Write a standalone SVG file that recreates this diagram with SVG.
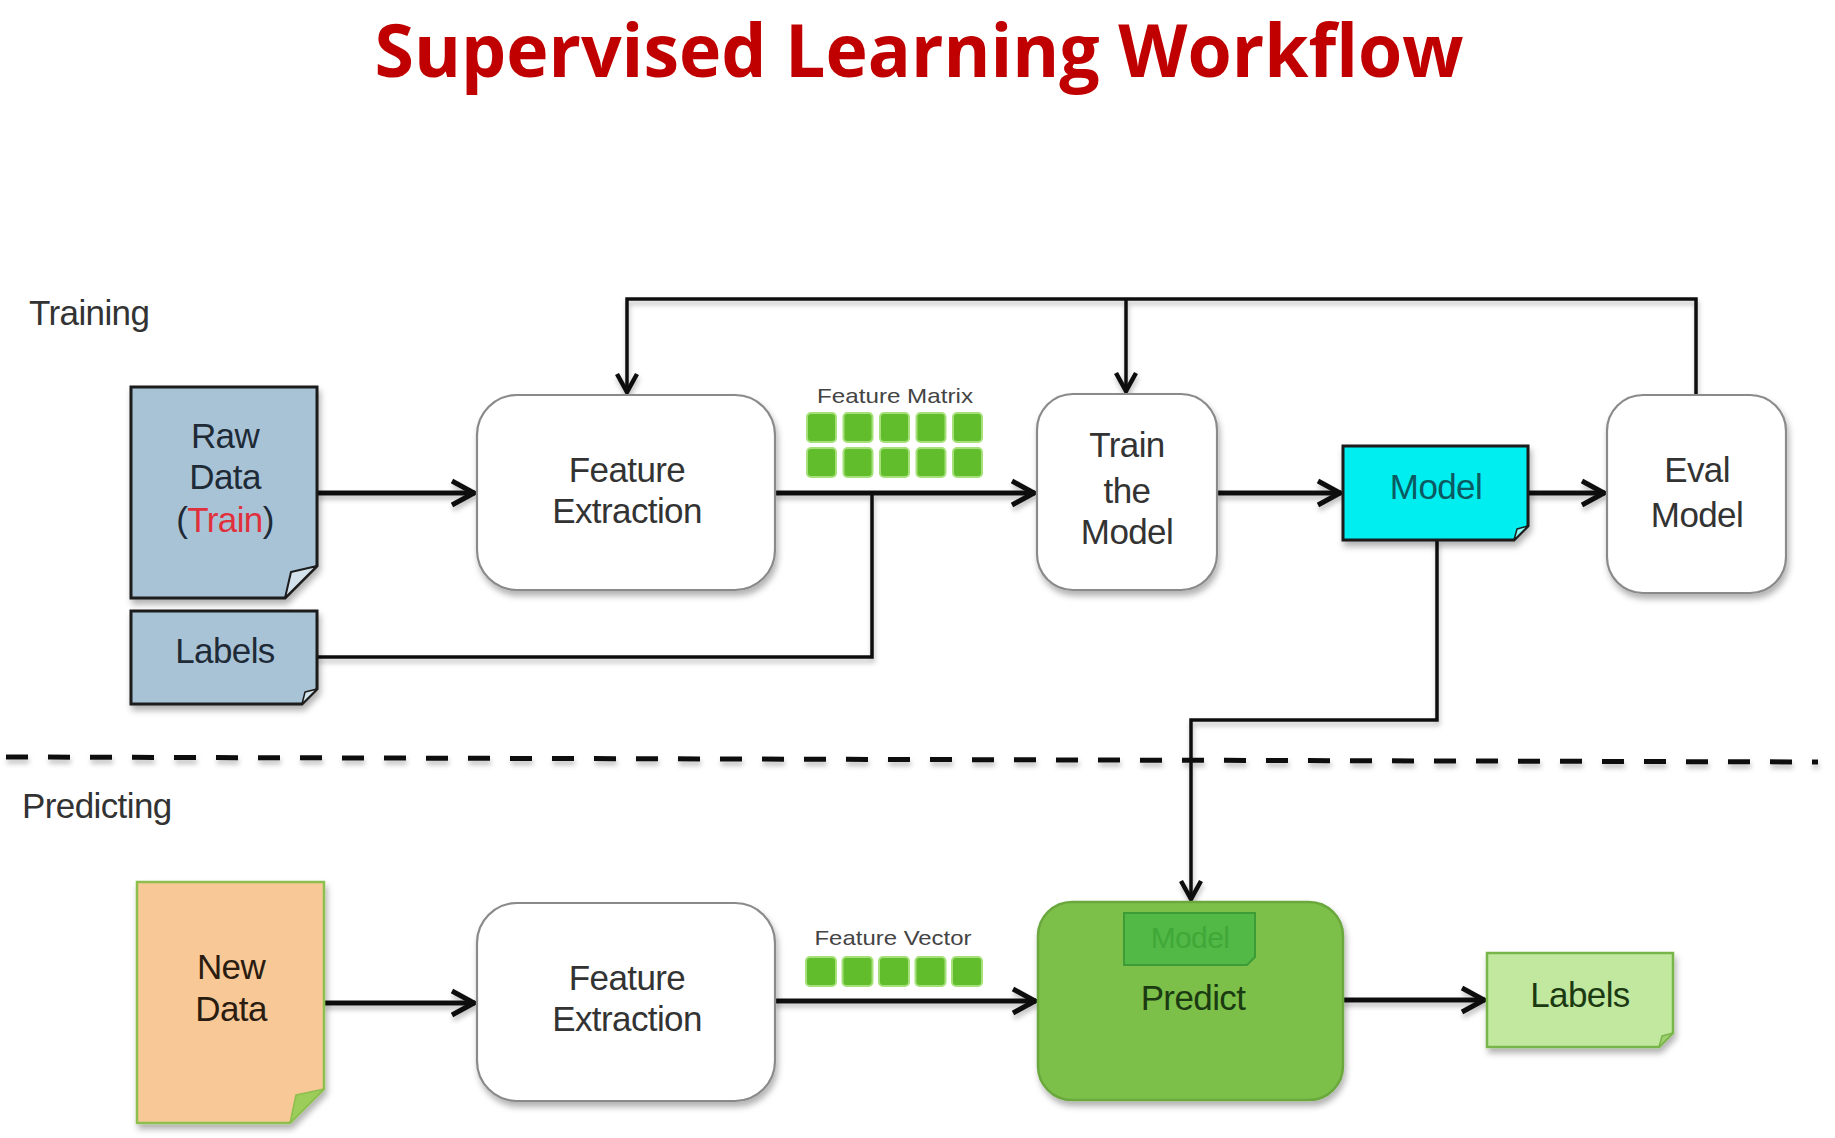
<svg xmlns="http://www.w3.org/2000/svg" width="1835" height="1138" viewBox="0 0 1835 1138">
<defs>
<style>
.t{font-family:"Liberation Sans",Arial,sans-serif;font-size:35px;fill:#333;text-anchor:middle;letter-spacing:-0.6px}
.sm{font-family:"Liberation Sans",Arial,sans-serif;font-size:21px;fill:#444;text-anchor:middle}
.sec{font-family:"Liberation Sans",Arial,sans-serif;font-size:35px;fill:#333;letter-spacing:-0.6px}
.wbox{fill:#fff;stroke:#8a8a8a;stroke-width:2.2}
.ln{fill:none;stroke:#111;stroke-width:5}
.ln2{fill:none;stroke:#111;stroke-width:3.5}
.sq{fill:#62bd2c;stroke:#a6e07a;stroke-width:2}
.fold{stroke-linejoin:round}
</style>
<filter id="sh" x="-10%" y="-10%" width="125%" height="130%">
<feDropShadow dx="2" dy="5" stdDeviation="3" flood-color="#000" flood-opacity="0.3"/>
</filter>
<filter id="lsh" x="-5%" y="-20%" width="110%" height="160%">
<feDropShadow dx="1" dy="4" stdDeviation="2.5" flood-color="#000" flood-opacity="0.25"/>
</filter>
<marker id="ar" markerUnits="userSpaceOnUse" markerWidth="32" markerHeight="34" refX="26" refY="15" orient="auto">
<path d="M3,3 L25,15 L3,27" fill="none" stroke="#111" stroke-width="5" stroke-linejoin="miter"/>
</marker>
<marker id="ar2" markerUnits="userSpaceOnUse" markerWidth="30" markerHeight="30" refX="22" refY="13" orient="auto">
<path d="M3,3 L21,13 L3,23" fill="none" stroke="#111" stroke-width="4.5"/>
</marker>
</defs>
<rect width="1835" height="1138" fill="#fff"/>

<text x="919" y="77" font-family="'Open Sans','Noto Sans',sans-serif" font-weight="bold" font-size="74" fill="#c00000" text-anchor="middle" textLength="1089" lengthAdjust="spacingAndGlyphs">Supervised Learning Workflow</text>

<text class="sec" x="29" y="325">Training</text>
<text class="sec" x="22" y="818">Predicting</text>

<g id="connectors" filter="url(#lsh)">
<line x1="6" y1="757" x2="1818" y2="762" stroke="#111" stroke-width="5" stroke-dasharray="22 20"/>
<line class="ln" x1="317" y1="493" x2="475" y2="493" marker-end="url(#ar)"/>
<line class="ln" x1="775" y1="493" x2="1035" y2="493" marker-end="url(#ar)"/>
<polyline class="ln2" points="317,657 872,657 872,493"/>
<line class="ln" x1="1217" y1="493" x2="1341" y2="493" marker-end="url(#ar)"/>
<line class="ln" x1="1528" y1="493" x2="1605" y2="493" marker-end="url(#ar)"/>
<polyline class="ln2" points="1696,395 1696,299 627,299 627,393" marker-end="url(#ar2)"/>
<line class="ln2" x1="1126" y1="299" x2="1126" y2="392" marker-end="url(#ar2)"/>
<polyline class="ln2" points="1437,540 1437,720 1191,720 1191,900" marker-end="url(#ar2)"/>
<line class="ln" x1="324" y1="1003" x2="475" y2="1003" marker-end="url(#ar)"/>
<line class="ln" x1="775" y1="1001" x2="1036" y2="1001" marker-end="url(#ar)"/>
<line class="ln" x1="1343" y1="1000" x2="1485" y2="1000" marker-end="url(#ar)"/>
</g>

<g id="raw-data">
<path d="M131,387 H317 V566 L285,598 H131 Z" fill="#a9c3d6" stroke="#1c1c1c" stroke-width="3" filter="url(#sh)"/>
<path class="fold" d="M317,566 L285,598 L291,572 Z" fill="#d4e2ec" stroke="#1c1c1c" stroke-width="2"/>
<text class="t" x="225" y="448" fill="#1e2a36" style="fill:#1e2a36">Raw</text>
<text class="t" x="225" y="489" style="fill:#1e2a36">Data</text>
<text class="t" x="225" y="532" style="fill:#1e2a36">(<tspan style="fill:#e0303c">Train</tspan>)</text>
</g>

<g id="labels-train">
<path d="M131,611 H317 V689 L302,704 H131 Z" fill="#a9c3d6" stroke="#1c1c1c" stroke-width="3" filter="url(#sh)"/>
<path class="fold" d="M317,689 L302,704 L305,692 Z" fill="#d4e2ec" stroke="#1c1c1c" stroke-width="1.5"/>
<text class="t" x="225" y="663" style="fill:#1e2a36">Labels</text>
</g>

<g id="feature-extraction-train">
<rect class="wbox" x="477" y="395" width="298" height="195" rx="40" filter="url(#sh)"/>
<text class="t" x="627" y="482">Feature</text>
<text class="t" x="627" y="523">Extraction</text>
</g>

<g id="feature-matrix">
<text class="sm" x="895" y="403" textLength="156" lengthAdjust="spacingAndGlyphs">Feature Matrix</text>
<rect class="sq" x="807" y="413" width="29" height="29" rx="4"/>
<rect class="sq" x="843.5" y="413" width="29" height="29" rx="4"/>
<rect class="sq" x="880" y="413" width="29" height="29" rx="4"/>
<rect class="sq" x="916.5" y="413" width="29" height="29" rx="4"/>
<rect class="sq" x="953" y="413" width="29" height="29" rx="4"/>
<rect class="sq" x="807" y="448" width="29" height="29" rx="4"/>
<rect class="sq" x="843.5" y="448" width="29" height="29" rx="4"/>
<rect class="sq" x="880" y="448" width="29" height="29" rx="4"/>
<rect class="sq" x="916.5" y="448" width="29" height="29" rx="4"/>
<rect class="sq" x="953" y="448" width="29" height="29" rx="4"/>
</g>

<g id="train-model">
<rect class="wbox" x="1037" y="394" width="180" height="196" rx="36" filter="url(#sh)"/>
<text class="t" x="1127" y="457">Train</text>
<text class="t" x="1127" y="503">the</text>
<text class="t" x="1127" y="544">Model</text>
</g>

<g id="model">
<path d="M1343,446 H1528 V526 L1514,540 H1343 Z" fill="#00eef0" stroke="#1c1c1c" stroke-width="3" filter="url(#sh)"/>
<path class="fold" d="M1528,526 L1514,540 L1517,529 Z" fill="#8ff6f6" stroke="#1c1c1c" stroke-width="1.5"/>
<text class="t" x="1436" y="499" style="fill:#0b5a62">Model</text>
</g>

<g id="eval-model">
<rect class="wbox" x="1607" y="395" width="179" height="198" rx="36" filter="url(#sh)"/>
<text class="t" x="1697" y="482">Eval</text>
<text class="t" x="1697" y="527">Model</text>
</g>

<g id="new-data">
<path d="M137,882 H324 V1089 L290,1123 H137 Z" fill="#f9c897" stroke="#8cbf4e" stroke-width="2.5" filter="url(#sh)"/>
<path class="fold" d="M324,1089 L290,1123 L296,1095 Z" fill="#9ccc5a" stroke="#8cbf4e" stroke-width="1.5"/>
<text class="t" x="231" y="979" style="fill:#2a1c10">New</text>
<text class="t" x="231" y="1021" style="fill:#2a1c10">Data</text>
</g>

<g id="feature-extraction-predict">
<rect class="wbox" x="477" y="903" width="298" height="198" rx="40" filter="url(#sh)"/>
<text class="t" x="627" y="990">Feature</text>
<text class="t" x="627" y="1031">Extraction</text>
</g>

<g id="feature-vector">
<text class="sm" x="893" y="945" textLength="157" lengthAdjust="spacingAndGlyphs">Feature Vector</text>
<rect class="sq" x="806" y="957" width="30" height="29" rx="4"/>
<rect class="sq" x="842.5" y="957" width="30" height="29" rx="4"/>
<rect class="sq" x="879" y="957" width="30" height="29" rx="4"/>
<rect class="sq" x="915.5" y="957" width="30" height="29" rx="4"/>
<rect class="sq" x="952" y="957" width="30" height="29" rx="4"/>
</g>

<g id="predict">
<rect x="1038" y="902" width="305" height="198" rx="34" fill="#7cc04a" stroke="#6aa83c" stroke-width="2.5" filter="url(#sh)"/>
<path d="M1124,913 H1255 V957 L1247,965 H1124 Z" fill="#52b846" stroke="#3d9c35" stroke-width="2"/>
<text class="t" x="1190" y="948" style="fill:#3fa838;font-size:30px">Model</text>
<text class="t" x="1193" y="1010" style="fill:#1b3a12">Predict</text>
</g>

<g id="labels-predict">
<path d="M1487,953 H1673 V1033 L1659,1047 H1487 Z" fill="#c2e8a0" stroke="#78b64a" stroke-width="2.5" filter="url(#sh)"/>
<path class="fold" d="M1673,1033 L1659,1047 L1662,1036 Z" fill="#a0d070" stroke="#78b64a" stroke-width="1.5"/>
<text class="t" x="1580" y="1007" style="fill:#1b3a12">Labels</text>
</g>
</svg>
